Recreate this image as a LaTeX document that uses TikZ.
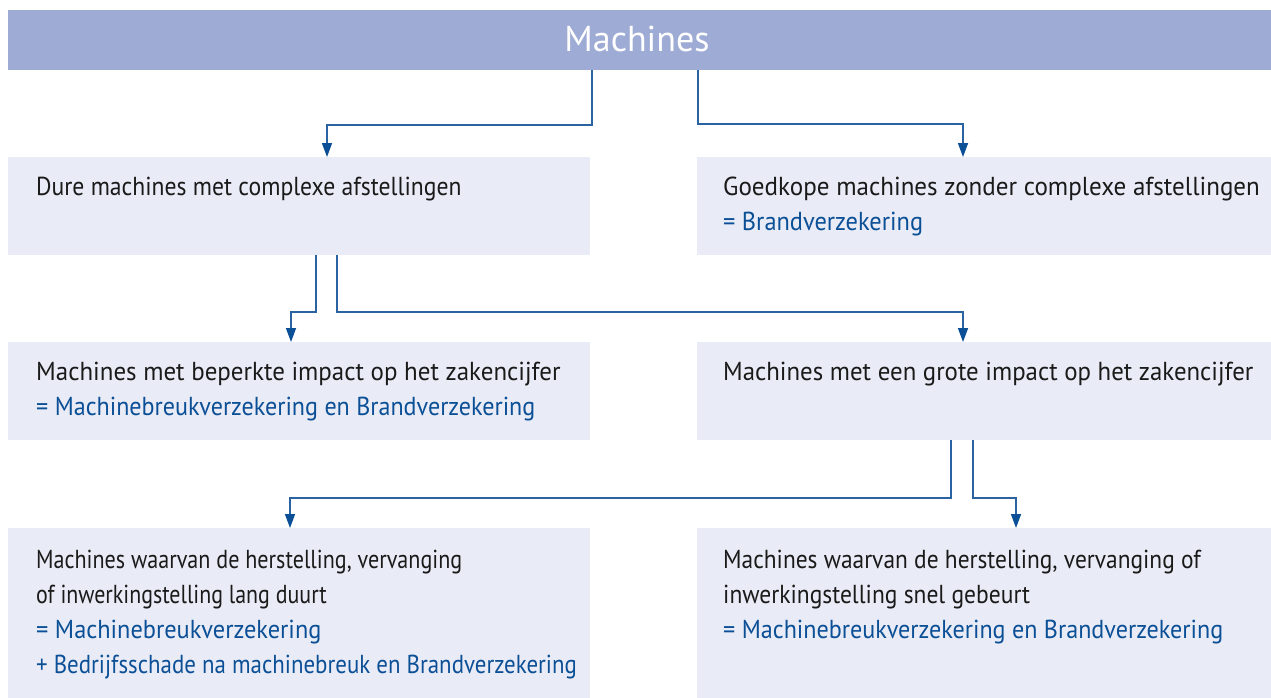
\documentclass[tikz,border=0pt]{standalone}
\usepackage{fontspec}
\usepackage{graphicx}
\setmainfont{PT Sans}[FakeStretch=0.91]
\newfontfamily\headfont{PT Sans}
\usetikzlibrary{arrows.meta,calc}
\definecolor{headfill}{HTML}{9EABD5}
\definecolor{boxfill}{HTML}{E9ECF6}
\definecolor{linkblue}{HTML}{2A62A2}
\definecolor{tipblue}{HTML}{0B4F96}
\definecolor{txtblue}{HTML}{0B4F96}
\definecolor{txtblack}{HTML}{1A1A1A}
\newcommand\hsq[2]{\scalebox{#1}[1]{#2}}
\tikzset{
  panel/.style={fill=boxfill, draw=none, inner sep=0pt, anchor=north west},
  headpanel/.style={fill=headfill, draw=none, inner sep=0pt, anchor=north west},
  ln/.style={anchor=base west, inner sep=0pt, text=txtblack, font=\fontsize{26}{35}\selectfont},
  lnb/.style={ln, text=txtblue},
  link/.style={draw=linkblue, line width=1.5pt, -{Triangle[width=10pt,length=14pt,color=tipblue]}},
}
\begin{document}
\begin{tikzpicture}[x=1pt,y=-1pt]
\useasboundingbox (0,0) rectangle (1271,698);
% panels
\node[headpanel, minimum width=1263pt, minimum height=60pt] (h) at (8,10) {};
\node[panel, minimum width=582pt, minimum height=98pt] (A) at (8,157) {};
\node[panel, minimum width=574pt, minimum height=98pt] (B) at (697,157) {};
\node[panel, minimum width=582pt, minimum height=98pt] (C) at (8,342) {};
\node[panel, minimum width=574pt, minimum height=98pt] (D) at (697,342) {};
\node[panel, minimum width=582pt, minimum height=170pt] (E) at (8,528) {};
\node[panel, minimum width=574pt, minimum height=170pt] (F) at (697,528) {};
% header text
\node[anchor=base, inner sep=0pt, text=white, font=\headfont\fontsize{36}{40}\selectfont] (ht) at (637,52) {Machines};
% texts
\node[ln] (a1) at (36,195) {Dure machines met complexe afstellingen};
\node[ln] (b1) at (723,195) {\hsq{1.059}{Goedkope machines zonder complexe afstellingen}};
\node[lnb] (b2) at (723,230) {\hsq{1.03}{= Brandverzekering}};
\node[ln] (c1) at (36,380) {\hsq{1.054}{Machines met beperkte impact op het zakencijfer}};
\node[lnb] (c2) at (36,415) {\hsq{1.018}{= Machinebreukverzekering en Brandverzekering}};
\node[ln] (d1) at (723,380) {\hsq{1.05}{Machines met een grote impact op het zakencijfer}};
\node[ln] (e1) at (36,568) {\hsq{0.934}{Machines waarvan de herstelling, vervanging}};
\node[ln] (e2) at (36,603) {\hsq{0.927}{of inwerkingstelling lang duurt}};
\node[lnb] (e3) at (36,638) {\hsq{1.03}{= Machinebreukverzekering}};
\node[lnb] (e4) at (36,673) {\hsq{0.968}{+ Bedrijfsschade na machinebreuk en Brandverzekering}};
\node[ln] (f1) at (723,568) {\hsq{0.99}{Machines waarvan de herstelling, vervanging of}};
\node[ln] (f2) at (723,603) {\hsq{0.994}{inwerkingstelling snel gebeurt}};
\node[lnb] (f3) at (723,638) {\hsq{1.02}{= Machinebreukverzekering en Brandverzekering}};
% connectors
\draw[link] (h.south -| 592,0) |- (327,125) -- (A.north -| 327,0);
\draw[link] (h.south -| 698,0) |- (963,124) -- (B.north -| 963,0);
\draw[link] (A.south -| 316,0) |- (291,312) -- (C.north -| 291,0);
\draw[link] (A.south -| 337,0) |- (963,312) -- (D.north -| 963,0);
\draw[link] (D.south -| 951,0) |- (290,498) -- (E.north -| 290,0);
\draw[link] (D.south -| 973,0) |- (1016,498) -- (F.north -| 1016,0);
\end{tikzpicture}
\end{document}
